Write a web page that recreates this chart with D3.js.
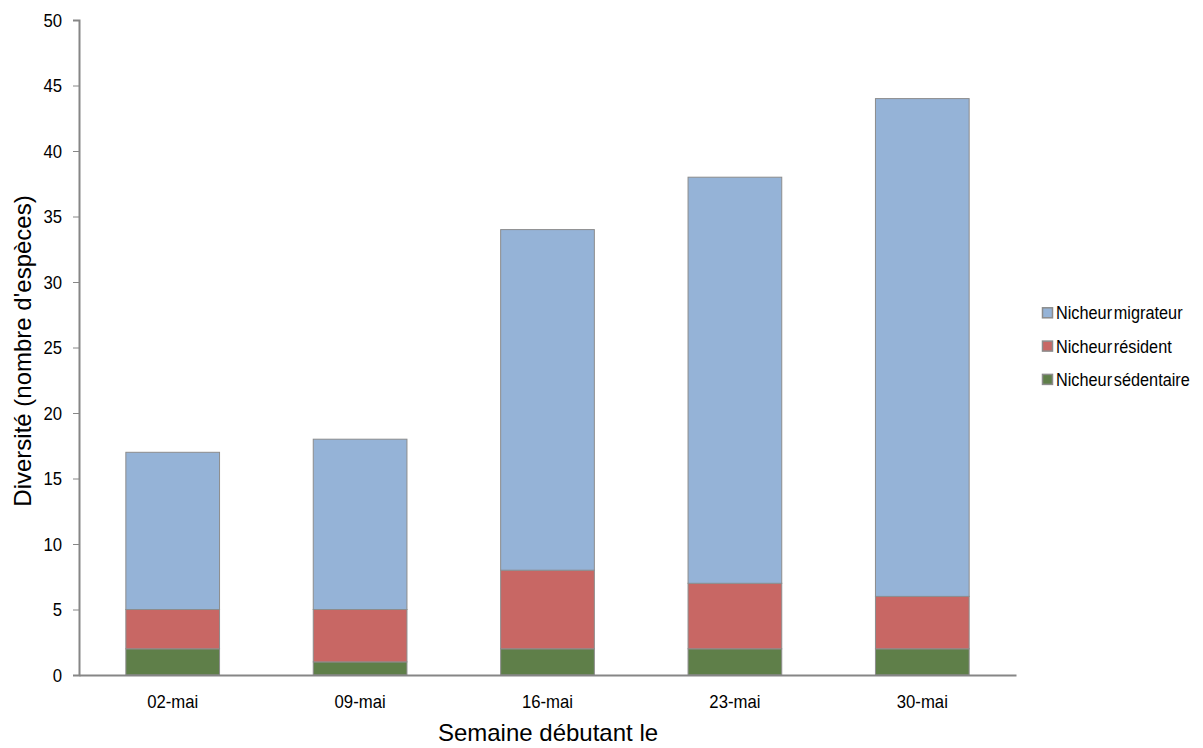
<!DOCTYPE html>
<html>
<head>
<meta charset="utf-8">
<script src="https://cdn.jsdelivr.net/npm/d3@7/dist/d3.min.js"></script>
<style>
  body { margin: 0; background: #fff; }
  svg text { font-family: "Liberation Sans", Arial, sans-serif; fill: #000; }
</style>
</head>
<body>
<svg id="chart" width="1203" height="748"></svg>
<script>
// Weekly bird diversity, stacked by breeding status
const weeks = ["02-mai", "09-mai", "16-mai", "23-mai", "30-mai"];
const sedentaire = [2, 1, 2, 2, 2];
const resident = [3, 4, 6, 5, 4];
const migrateur = [12, 13, 26, 31, 38];
const seriesNames = ["Nicheur sédentaire", "Nicheur résident", "Nicheur migrateur"];
const seriesColors = ["#5f7f49", "#c86764", "#95b3d7"];
const yTicks = [0, 5, 10, 15, 20, 25, 30, 35, 40, 45, 50];

const svg = d3.select("#chart");
const margin = { left: 79, right: 1016, top: 20, bottom: 675 };

// squeeze a text selection horizontally to mimic a narrow typeface
function condense(sel, ratio) {
  sel.each(function () {
    const w = this.getComputedTextLength();
    d3.select(this).attr("textLength", w * ratio).attr("lengthAdjust", "spacingAndGlyphs");
  });
}

const rows = weeks.map((w, i) => ({
  week: w,
  "Nicheur sédentaire": sedentaire[i],
  "Nicheur résident": resident[i],
  "Nicheur migrateur": migrateur[i]
}));
const stacked = d3.stack().keys(seriesNames)(rows);

const x = d3.scaleBand().domain(weeks).range([margin.left, margin.right]).paddingInner(0.5).paddingOuter(0.25);
const y = d3.scaleLinear().domain([0, 50]).range([margin.bottom, margin.top]);

// bars
const layer = svg.append("g");
stacked.forEach((s, k) => {
  layer.selectAll(null).data(s).enter().append("rect")
    .attr("x", d => x(d.data.week))
    .attr("width", x.bandwidth())
    .attr("y", d => y(d[1]))
    .attr("height", d => y(d[0]) - y(d[1]))
    .attr("fill", seriesColors[k])
    .attr("stroke", "#8c8c8c")
    .attr("stroke-width", 1);
});

// y axis
const yAxis = svg.append("g").attr("transform", `translate(${margin.left},0)`)
  .call(d3.axisLeft(y).tickValues(yTicks).tickSize(6).tickPadding(11));
yAxis.select(".domain").attr("stroke", "#868686").attr("stroke-width", 2);
yAxis.selectAll(".tick line").attr("stroke", "#868686");
yAxis.selectAll(".tick text").style("font-size", "19px").call(condense, 0.88);

// x axis
const xAxis = svg.append("g").attr("transform", `translate(0,${margin.bottom})`)
  .call(d3.axisBottom(x).tickSize(0).tickPadding(19.5));
xAxis.select(".domain").attr("stroke", "#868686").attr("stroke-width", 2);
xAxis.selectAll(".tick text").style("font-size", "19px").call(condense, 0.88);

// axis titles
svg.append("text")
  .attr("transform", "translate(31,351) rotate(-90)")
  .attr("text-anchor", "middle")
  .style("font-size", "24px")
  .text("Diversité (nombre d'espèces)");
svg.append("text")
  .attr("x", 548)
  .attr("y", 741)
  .attr("text-anchor", "middle")
  .style("font-size", "24px")
  .text("Semaine débutant le");

// legend (top entry is the top of the stack)
const legendOrder = [2, 1, 0];
const legend = svg.append("g").attr("transform", "translate(1042,0)");
legendOrder.forEach((k, i) => {
  const base = 319.3 + i * 33.3;
  legend.append("rect")
    .attr("x", 0.5).attr("y", base - 11.5)
    .attr("width", 10).attr("height", 10)
    .attr("fill", seriesColors[k])
    .attr("stroke", "#8c8c8c").attr("stroke-width", 1.5);
  legend.append("text")
    .attr("x", 14).attr("y", base)
    .style("font-size", "17.5px")
    .style("word-spacing", "-3px")
    .text(seriesNames[k])
    .call(condense, 0.93);
});
</script>
</body>
</html>
